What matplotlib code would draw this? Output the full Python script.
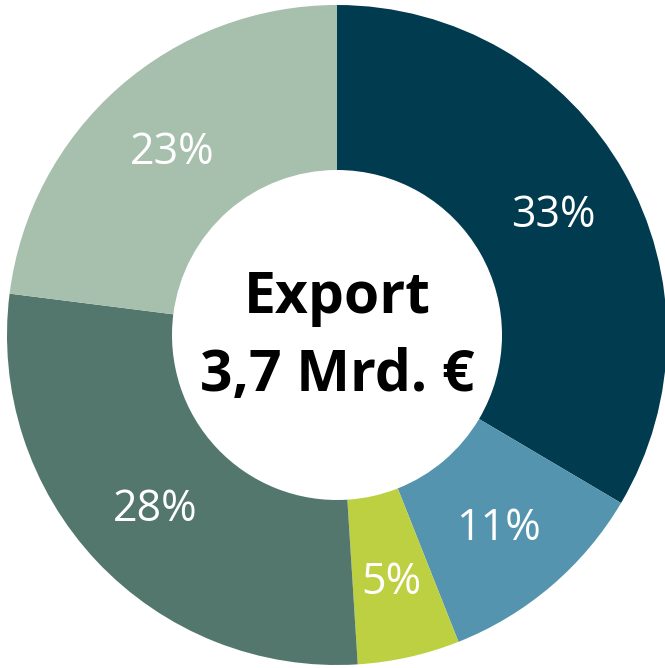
import numpy as np
import matplotlib.pyplot as plt

shares = [33.5, 10.5, 5.0, 28.0, 23.0]
labels = ['33%', '11%', '5%', '28%', '23%']
colors = ['#003b4f', '#5594ae', '#bdd042', '#53776c', '#a7bfad']
title_lines = ['Export', '3,7 Mrd. €']

fig = plt.figure(figsize=(6.65, 6.68), dpi=100)
ax = fig.add_axes([0, 0, 1, 1])

ax.pie(shares, colors=colors, startangle=90, counterclock=False,
       radius=1.0, wedgeprops=dict(width=0.5, linewidth=0))

# percentage labels inside the ring (baseline set half a digit below the mid point)
half_digit = 15.5 / 330
theta = 90.0
for s, lab in zip(shares, labels):
    mid = np.deg2rad(theta - s * 3.6 / 2)
    theta -= s * 3.6
    ax.text(0.755 * np.cos(mid), 0.755 * np.sin(mid) - half_digit, lab,
            color='white', ha='center', va='baseline', fontsize=31,
            family='Open Sans')

ax.text(0, 0.067, title_lines[0], ha='center', va='baseline', fontsize=41,
        fontweight='bold', family='Open Sans')
ax.text(0, -0.170, title_lines[1], ha='center', va='baseline', fontsize=41,
        fontweight='bold', family='Open Sans')

ax.set_xlim(-337 / 330, (665 - 337) / 330)
ax.set_ylim(-(668 - 335) / 330, 335 / 330)
ax.axis('off')

fig.savefig('out.png', dpi=100)
